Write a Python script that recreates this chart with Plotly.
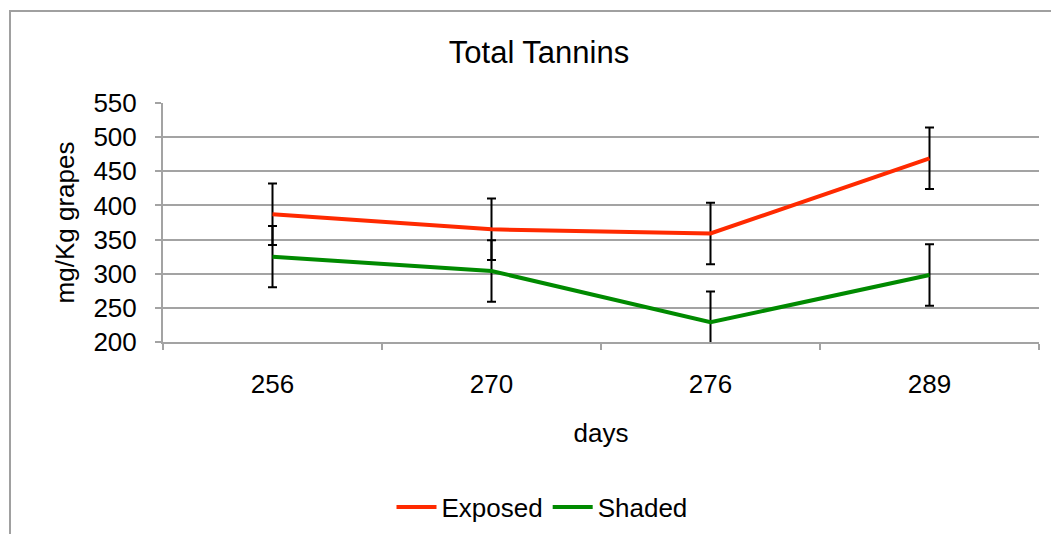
import plotly.graph_objects as go

days = ["256", "270", "276", "289"]
exposed = [387, 365, 359, 469]
exposed_err = [45, 45, 45, 45]
shaded = [325, 304, 229, 298]
shaded_err = [45, 45, 45, 45]

FONT = "Liberation Sans, Arial, Helvetica, sans-serif"
GRID = "#A3A3A3"
FS = 26

fig = go.Figure()
fig.add_trace(go.Scatter(
    x=days, y=exposed, name="Exposed", mode="lines",
    line=dict(color="#FF2A00", width=4),
    error_y=dict(type="data", array=exposed_err, color="black", thickness=2, width=4.5),
))
fig.add_trace(go.Scatter(
    x=days, y=shaded, name="Shaded", mode="lines",
    line=dict(color="#008A00", width=4),
    error_y=dict(type="data", array=shaded_err, color="black", thickness=2, width=4.5),
))

OFF = 8  # page body margin
W, H = 1059 - OFF, 534 - OFF
L, R, T, B = 163 - OFF, 1039 - OFF, 103 - OFF, 342 - OFF
pw, ph = R - L, B - T

def px_x(x):
    return (x - OFF - L) / pw

def px_y(y):
    return (B - (y - OFF)) / ph

fig.update_layout(
    width=W, height=H,
    margin=dict(l=L, r=W - R, t=T, b=H - B),
    paper_bgcolor="white", plot_bgcolor="white",
    font=dict(family=FONT, color="black", size=FS),
    title=dict(text="Total Tannins", x=((446 + 632) / 2 - OFF) / W, xanchor="center",
               y=1 - (52 - OFF) / H, yanchor="middle", yref="container",
               font=dict(size=31, family=FONT, color="black")),
    showlegend=True,
    legend=dict(orientation="h", xref="container", x=(542 - OFF) / W, xanchor="center",
                yref="container", y=1 - (507 - OFF) / H, yanchor="middle",
                font=dict(size=FS, family=FONT),
                bgcolor="rgba(0,0,0,0)", itemwidth=40),
    xaxis=dict(
        type="category", range=[-0.5, len(days) - 0.5], showgrid=False,
        showline=True, linecolor=GRID, linewidth=2,
        ticks="outside", tickson="boundaries", ticklen=6, tickcolor=GRID, tickwidth=2,
        tickfont=dict(size=FS, family=FONT), ticklabelstandoff=18,
        title=dict(text="days", font=dict(size=FS, family=FONT), standoff=26),
        automargin=False,
    ),
    yaxis=dict(
        range=[200, 550], dtick=50, tick0=200, showgrid=True, gridcolor=GRID, gridwidth=2,
        showline=True, linecolor=GRID, linewidth=2, zeroline=False,
        ticks="outside", ticklen=6, tickcolor=GRID, tickwidth=2,
        tickfont=dict(size=FS, family=FONT), ticklabelstandoff=13,
        title=dict(text="mg/Kg grapes", font=dict(size=FS, family=FONT), standoff=11),
        automargin=False,
    ),
    shapes=[dict(type="rect", xref="paper", yref="paper",
                 x0=px_x(10), x1=px_x(1075), y0=px_y(560), y1=px_y(11),
                 line=dict(color="#A0A0A0", width=2), fillcolor="rgba(0,0,0,0)",
                 layer="below")],
)

fig.write_html("out.html")
